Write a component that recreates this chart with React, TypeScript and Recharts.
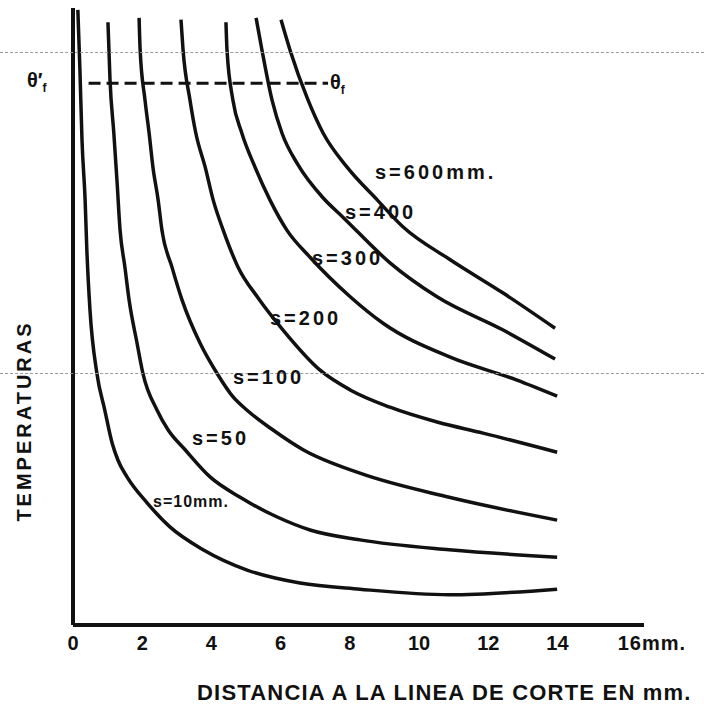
import React from 'react';
import { LineChart, Line, XAxis, YAxis, ReferenceLine } from 'recharts';

// distancia (mm) , temperatura relativa (0-100, sin escala en el original)
const s10 = [[0.14, 99.7], [0.2, 90.0], [0.26, 78.6], [0.35, 68.9], [0.4, 60.8], [0.49, 51.1], [0.69, 40.8], [0.92, 34.8], [1.13, 29.5], [1.3, 26.7], [1.56, 24.0], [2.14, 19.8], [2.8, 15.9], [3.76, 12.2], [5.03, 8.9], [6.56, 6.8], [8.29, 5.8], [10.87, 4.9], [13.99, 5.8]];
const s50 = [[1.01, 97.7], [1.07, 88.3], [1.18, 79.7], [1.27, 72.1], [1.36, 64.0], [1.5, 58.0], [1.62, 52.7], [1.85, 45.7], [2.02, 40.8], [2.43, 34.8], [2.75, 31.6], [3.24, 28.4], [3.96, 24.0], [4.83, 20.7], [5.9, 17.5], [6.85, 15.4], [8.29, 13.8], [10.87, 12.2], [13.99, 11.0]];
const s100 = [[1.91, 98.4], [1.94, 93.2], [2.08, 85.1], [2.2, 79.7], [2.31, 74.2], [2.46, 68.9], [2.57, 64.0], [2.86, 58.0], [3.15, 52.7], [3.67, 45.7], [4.16, 40.8], [4.62, 37.0], [5.03, 34.8], [5.78, 31.6], [6.65, 28.4], [8.29, 24.6], [10.87, 20.7], [13.99, 17.0]];
const s200 = [[3.12, 98.1], [3.18, 93.2], [3.38, 85.1], [3.55, 79.7], [3.82, 74.2], [4.05, 68.9], [4.34, 64.0], [4.77, 58.0], [5.35, 53.0], [6.07, 47.8], [7.14, 41.3], [8.01, 38.1], [9.16, 35.3], [10.52, 32.9], [11.85, 31.1], [13.99, 28.0]];
const s300 = [[4.42, 97.7], [4.45, 93.2], [4.62, 85.1], [4.88, 79.7], [5.26, 74.2], [5.69, 68.9], [6.18, 64.0], [6.85, 59.6], [8.01, 53.2], [8.96, 48.9], [10.9, 43.4], [12.83, 39.7], [13.99, 37.1]];
const s400 = [[5.29, 98.4], [5.46, 93.2], [5.75, 85.1], [6.04, 79.7], [6.5, 74.6], [7.23, 69.2], [7.8, 66.1], [9.16, 58.7], [10.52, 53.2], [12.43, 47.8], [13.93, 43.1]];
const s600 = [[6.01, 98.1], [6.27, 93.2], [6.79, 85.1], [7.23, 79.7], [7.92, 74.2], [8.79, 68.9], [9.54, 64.5], [10.9, 59.2], [12.43, 53.8], [13.93, 48.1]];

const xTicks = [0, 2, 4, 6, 8, 10, 12, 14, 16];
const thetaLevel = 87.8; // θ'f ---- θf
const thetaFrom = 0.45;
const thetaTo = 7.37;

const INK = '#111';
const FONT = '"Liberation Sans", Arial, sans-serif';

const series = [s10, s50, s100, s200, s300, s400, s600].map((pts) =>
  pts.map(([x, y]) => ({ x, y }))
);

const DistTick = (props: any) => {
  const { x, y, payload } = props;
  const v = payload.value;
  const common = { fill: INK, fontFamily: FONT, fontWeight: 700, fontSize: 20 };
  if (v === 16) {
    return (
      <text x={x - 9} y={y} dy="0.71em" textAnchor="start" letterSpacing={1} {...common}>
        16mm.
      </text>
    );
  }
  return (
    <text x={x} y={y} dy="0.71em" textAnchor="middle" {...common}>
      {v}
    </text>
  );
};

const Tag = ({ left, top, size = 20, spacing = 3, children }: any) => (
  <div
    style={{
      position: 'absolute',
      left,
      top: top - size / 2,
      fontSize: size,
      lineHeight: 1,
      letterSpacing: spacing,
      fontFamily: FONT,
      fontWeight: 700,
      color: INK,
      whiteSpace: 'nowrap',
    }}
  >
    {children}
  </div>
);

const FoldLine = ({ top }: { top: number }) => (
  <div style={{ position: 'absolute', left: 0, top, width: 704, borderTop: '1px dashed #9a9a9a' }} />
);

export default function App() {
  return (
    <div style={{ position: 'absolute', left: 0, top: 0, width: 704, height: 708, background: '#fff', overflow: 'hidden' }}>
      <LineChart width={704} height={708} margin={{ top: 8, right: 60, bottom: 43, left: 63 }}>
        <XAxis
          type="number"
          dataKey="x"
          domain={[0, 16.5]}
          ticks={xTicks}
          allowDataOverflow
          height={40}
          axisLine={{ stroke: INK, strokeWidth: 4 }}
          tickLine={false}
          tickSize={6}
          tickMargin={5}
          tick={<DistTick />}
          interval={0}
        />
        <YAxis
          type="number"
          domain={[0, 100]}
          width={10}
          tick={false}
          tickLine={false}
          axisLine={{ stroke: INK, strokeWidth: 4 }}
        />
        <ReferenceLine
          segment={[{ x: thetaFrom, y: thetaLevel }, { x: thetaTo, y: thetaLevel }]}
          stroke={INK}
          strokeWidth={3}
          strokeDasharray="12 6"
        />
        {series.map((d, i) => (
          <Line
            key={i}
            data={d}
            dataKey="y"
            type="monotone"
            stroke={INK}
            strokeWidth={3.5}
            dot={false}
            isAnimationActive={false}
          />
        ))}
      </LineChart>

      <FoldLine top={52} />
      <FoldLine top={373} />

      <Tag left={375} top={172}>s=600mm.</Tag>
      <Tag left={345} top={212}>s=400</Tag>
      <Tag left={312} top={258}>s=300</Tag>
      <Tag left={270} top={318}>s=200</Tag>
      <Tag left={233} top={377}>s=100</Tag>
      <Tag left={192} top={438}>s=50</Tag>
      <Tag left={153} top={502} size={16} spacing={1}>s=10mm.</Tag>

      <Tag left={27} top={80} size={20} spacing={0}>
        θ′<sub style={{ fontSize: 12 }}>f</sub>
      </Tag>
      <Tag left={330} top={82} size={20} spacing={0}>
        θ<sub style={{ fontSize: 12 }}>f</sub>
      </Tag>

      <div
        style={{
          position: 'absolute',
          left: 24,
          top: 421,
          transform: 'translate(-50%, -50%) rotate(-90deg)',
          fontFamily: FONT,
          fontWeight: 700,
          fontSize: 20,
          letterSpacing: 3,
          lineHeight: 1,
          color: INK,
          whiteSpace: 'nowrap',
        }}
      >
        TEMPERATURAS
      </div>

      <div
        style={{
          position: 'absolute',
          left: 197,
          top: 682,
          fontFamily: FONT,
          fontWeight: 700,
          fontSize: 22,
          letterSpacing: 1.2,
          lineHeight: 1,
          color: INK,
          whiteSpace: 'nowrap',
        }}
      >
        DISTANCIA A LA LINEA DE CORTE EN mm.
      </div>
    </div>
  );
}
